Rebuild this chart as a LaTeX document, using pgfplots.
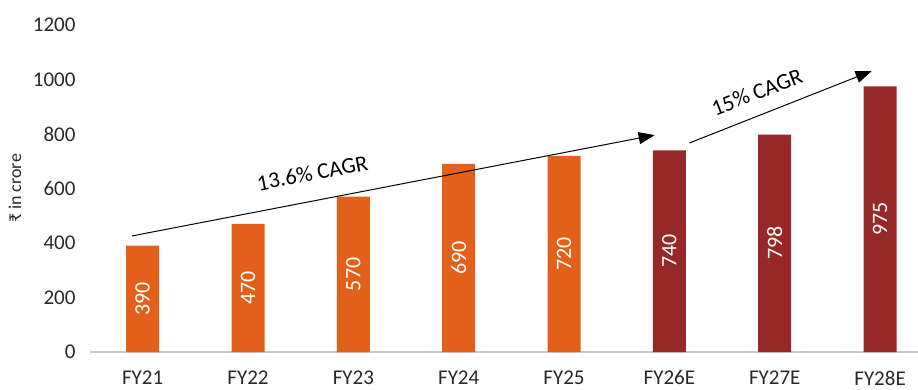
\documentclass[border=0pt]{standalone}
\usepackage{pgfplots}
\pgfplotsset{compat=1.18}
\usepackage{fontspec}
\setmainfont{Carlito}
\usetikzlibrary{arrows.meta}
\definecolor{barorange}{RGB}{226,96,26}
\definecolor{barred}{RGB}{150,41,40}
\definecolor{axgray}{RGB}{200,200,200}
\definecolor{txt}{RGB}{40,40,40}
\begin{document}
\begin{tikzpicture}
\begin{axis}[
  at={(0,0)}, anchor=south west,
  scale only axis, width=828bp, height=327bp,
  xmin=-0.5, xmax=7.36, ymin=0, ymax=1200,
  ybar, bar width=33bp, bar shift=0pt,
  axis x line*=bottom, axis y line*=left,
  x axis line style={draw=axgray, line width=1.2bp, -},
  y axis line style={draw=none, -},
  xtick={0,...,7},
  xticklabels={FY21,FY22,FY23,FY24,FY25,FY26E,FY27E,FY28E},
  ytick={0,200,...,1200},
  tick style={draw=none},
  /pgf/number format/assume math mode=true,
  /pgf/number format/1000 sep={},
  ticklabel style={font=\fontsize{21bp}{22bp}\selectfont, text=txt},
  xticklabel style={yshift=-11bp},
  yticklabel style={xshift=-11bp},
  nodes near coords,
  visualization depends on={y \as \rawy},
  every node near coord/.append style={font=\fontsize{22bp}{22bp}\selectfont, text=white,
     shift={(axis direction cs:0,-\rawy/2)}, rotate=90, anchor=center},
  clip=false,
]
\addplot[fill=barorange, draw=none] coordinates {(0,390) (1,470) (2,570) (3,690) (4,720)};
\addplot[fill=barred, draw=none] coordinates {(5,740) (6,798) (7,975)};
\draw[-{Triangle[length=16bp,width=12bp]}, line width=1bp, black] (axis cs:-0.10,426) -- (axis cs:4.86,796);
\draw[-{Triangle[length=16bp,width=12bp]}, line width=1bp, black] (axis cs:5.19,767) -- (axis cs:6.92,1031);
\node[rotate=11, font=\fontsize{22.5bp}{24bp}\selectfont, text=black] at (axis cs:1.61,657) {13.6\% CAGR};
\node[rotate=21, font=\fontsize{22.5bp}{24bp}\selectfont, text=black] at (axis cs:5.83,954) {15\% CAGR};
\end{axis}
\node[rotate=90, font=\fontsize{18bp}{20bp}\selectfont, text=txt] at (-75bp,163.5bp) {₹ in crore};
\pgfresetboundingbox
\path[use as bounding box] (-90bp,-38bp) rectangle (828bp,352bp);
\end{tikzpicture}
\end{document}
